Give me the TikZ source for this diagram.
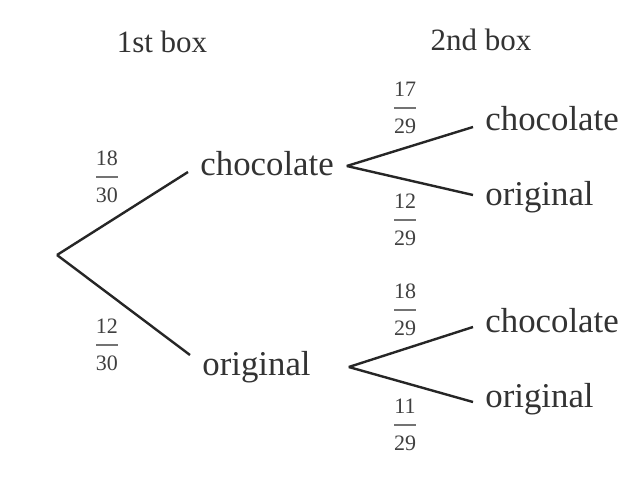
\documentclass[tikz,border=0pt]{standalone}
\usepackage{fontspec}
\setmainfont{Liberation Serif}

\begin{document}
\begin{tikzpicture}[
    x=0.5pt,
    y=-0.5pt,
    branch/.style={
        draw=black!85,
        line width=1.2pt
    },
    outcome/.style={
        anchor=base west,
        inner xsep=6pt,
        inner ysep=0pt,
        font=\fontsize{17.4}{20}\selectfont,
        text=black!80
    },
    first/.style={
        outcome,
        text width=67pt,
        align=left
    },
    header/.style={
        anchor=base,
        font=\fontsize{15.5}{18}\selectfont,
        text=black!80
    },
    prob/.style={
        align=center,
        inner xsep=1pt,
        inner ysep=0pt,
        font=\fontsize{11}{18.5}\selectfont,
        text=black!75,
        path picture={
            \draw[black!55, line width=0.6pt]
            ([xshift=-5.5pt]path picture bounding box.center) --
            ([xshift=5.5pt]path picture bounding box.center);
        }
    }
]

\fill[white] (0,0) rectangle (633,489);

% Headers
\node[header] (h1) at (162,52) {1st box};
\node[header] (h2) at (481,50) {2nd box};

% 1st box
\coordinate (root) at (57,255);
\node[first] (c1) at (188,175) {chocolate};
\node[first] (o1) at (190,375) {original};

% 2nd box
\node[outcome] (c2) at (473,130) {chocolate};
\node[outcome] (o2) at (473,205) {original};
\node[outcome] (c3) at (473,332) {chocolate};
\node[outcome] (o3) at (473,407) {original};

% Probabilities
\node[prob] (p1) at (107,177) {18\\30};
\node[prob] (p2) at (107,345) {12\\30};
\node[prob] (p3) at (405,108) {17\\29};
\node[prob] (p4) at (405,220) {12\\29};
\node[prob] (p5) at (405,310) {18\\29};
\node[prob] (p6) at (405,425) {11\\29};

% Branches
\draw[branch] (root) -- ([yshift=1.5pt]c1.base west);
\draw[branch] (root) -- ([yshift=10pt]o1.base west);

\draw[branch] ([yshift=4.5pt]c1.base east) -- ([yshift=1.5pt]c2.base west);
\draw[branch] ([yshift=4.5pt]c1.base east) -- ([yshift=5pt]o2.base west);

\draw[branch] ([yshift=4pt]o1.base east) -- ([yshift=2.5pt]c3.base west);
\draw[branch] ([yshift=4pt]o1.base east) -- ([yshift=2.5pt]o3.base west);

\end{tikzpicture}
\end{document}
